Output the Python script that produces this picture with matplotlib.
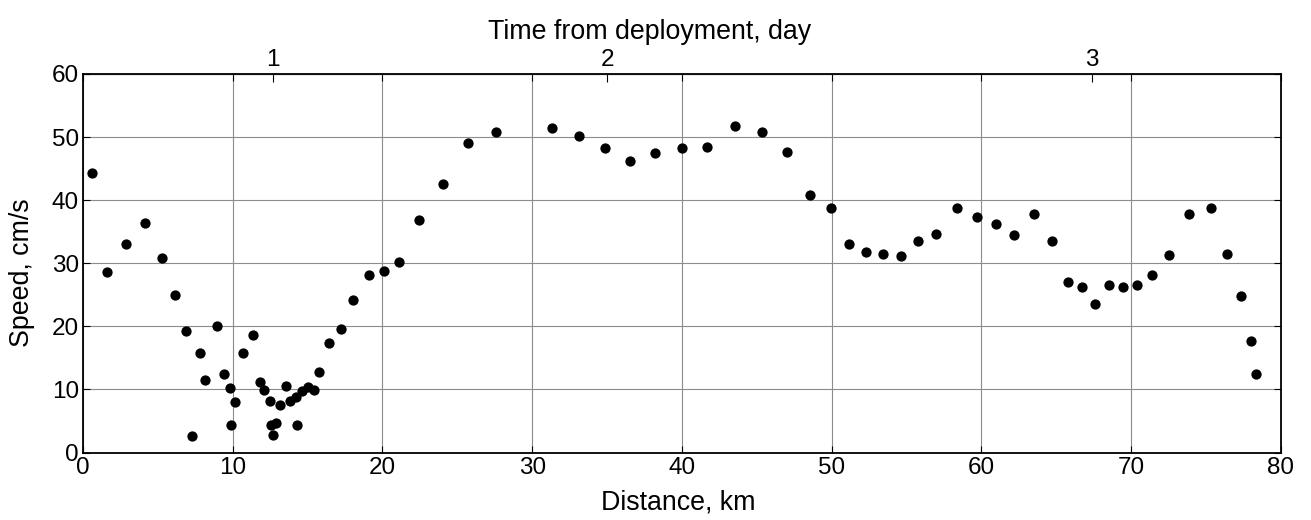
import numpy as np
import matplotlib.pyplot as plt

plt.rcParams['font.family'] = ['Liberation Sans', 'DejaVu Sans']

# 沿航迹距离 (km) 与流速 (cm/s)
dist_km = [0.58, 1.63, 2.85, 4.16, 5.28, 6.12, 6.88, 7.26, 7.81, 8.17,
           8.93, 9.39, 9.79, 9.88, 10.13, 10.71, 11.35, 11.84, 12.11, 12.49,
           12.55, 12.91, 12.67, 13.13, 13.53, 13.82, 14.20, 14.27, 14.65, 15.03,
           15.45, 15.78, 16.43, 17.20, 18.03, 19.08, 20.08, 21.12, 22.44, 24.04,
           25.71, 27.56, 31.34, 33.12, 34.84, 36.51, 38.20, 39.98, 41.67, 43.56,
           45.34, 47.01, 48.52, 49.93, 51.15, 52.29, 53.40, 54.62, 55.74, 56.96,
           58.36, 59.68, 60.99, 62.19, 63.50, 64.73, 65.78, 66.71, 67.56, 68.49,
           69.43, 70.36, 71.41, 72.52, 73.84, 75.33, 76.37, 77.31, 77.97, 78.35]
speed = [44.3, 28.6, 33.1, 36.4, 30.9, 25.0, 19.3, 2.6, 15.7, 11.5,
         20.0, 12.4, 10.3, 4.4, 8.0, 15.7, 18.6, 11.1, 9.9, 8.2,
         4.4, 4.6, 2.8, 7.5, 10.6, 8.2, 8.8, 4.4, 9.8, 10.4,
         9.9, 12.8, 17.3, 19.5, 24.2, 28.2, 28.8, 30.2, 36.8, 42.6,
         49.1, 50.8, 51.5, 50.2, 48.2, 46.2, 47.5, 48.2, 48.4, 51.7,
         50.8, 47.7, 40.8, 38.8, 33.1, 31.8, 31.5, 31.1, 33.5, 34.6,
         38.8, 37.3, 36.2, 34.4, 37.8, 33.5, 27.1, 26.2, 23.5, 26.6,
         26.2, 26.6, 28.2, 31.3, 37.8, 38.8, 31.5, 24.8, 17.7, 12.4]

# 部署后天数对应的距离位置
day_km = [12.7, 35.0, 67.4]
day_labels = ['1', '2', '3']

fig = plt.figure(figsize=(13.11, 5.2), dpi=100)
ax = fig.add_axes([0.0633, 0.1298, 0.9138, 0.7279])

ax.plot(dist_km, speed, 'o', color='k', markersize=7.4, markeredgewidth=0)

ax.set_xlim(0, 80)
ax.set_ylim(0, 60)
ax.set_xticks(np.arange(0, 81, 10))
ax.set_yticks(np.arange(0, 61, 10))
ax.grid(True, color='0.55', linewidth=0.8)
ax.tick_params(direction='in', top=True, right=True, length=5, width=0.8,
               labelsize=17.5, pad=3)
for s in ax.spines.values():
    s.set_linewidth(1.3)

ax.set_xlabel('Distance, km', fontsize=19.3, labelpad=8)
ax.set_ylabel('Speed, cm/s', fontsize=19.3, labelpad=12)
ax.xaxis.label.set_x(0.497)
ax.yaxis.label.set_y(0.476)

# 顶部时间轴
top = ax.secondary_xaxis('top')
top.set_xticks(day_km)
top.set_xticklabels(day_labels)
top.tick_params(direction='in', length=6, width=0.8, labelsize=17.5, pad=2)
top.set_xlabel('Time from deployment, day', fontsize=19.3, labelpad=7)
top.xaxis.label.set_x(0.473)

fig.savefig('out.png', dpi=100)
